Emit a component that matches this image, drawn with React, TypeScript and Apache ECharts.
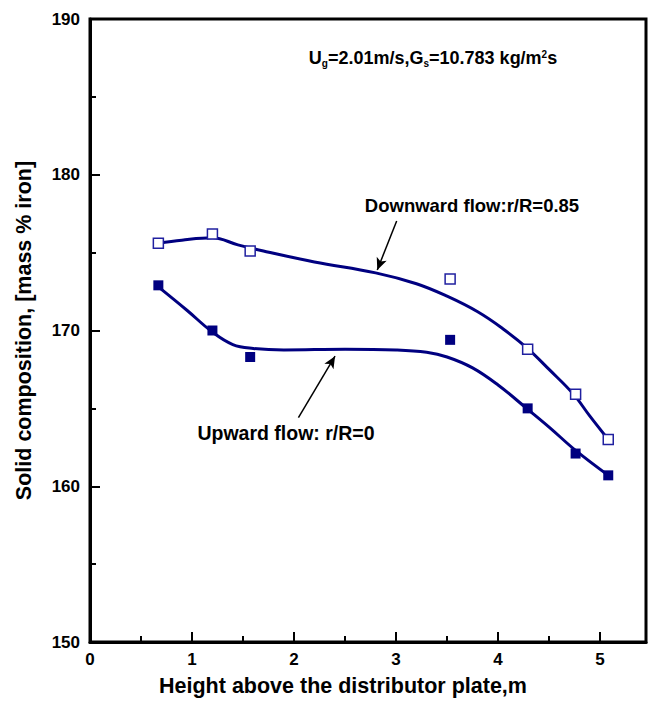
import React, { useEffect, useRef } from "react";
import * as echarts from "echarts";

// Measured points
const heights = [0.67, 1.2, 1.57, 3.53, 4.29, 4.76, 5.08];
const downwardPts = [175.6, 176.2, 175.1, 173.3, 168.8, 165.9, 163.0];
const upwardPts = [172.9, 170.0, 168.3, 169.4, 165.0, 162.1, 160.7];

// Fitted curves
const downCurveX = [0.67, 0.9, 1.2, 1.45, 1.7, 2.2, 2.8, 3.2, 3.5, 3.8, 4.05, 4.28, 4.5, 4.74, 4.9, 5.08];
const downCurveY = [175.6, 175.8, 175.95, 175.5, 175.1, 174.4, 173.7, 173.0, 172.2, 171.2, 170.1, 168.9, 167.5, 165.9, 164.5, 163.0];
const upCurveX = [0.67, 0.95, 1.2, 1.4, 1.6, 1.9, 2.5, 3.0, 3.3, 3.5, 3.75, 4.0, 4.28, 4.5, 4.76, 5.08];
const upCurveY = [172.8, 171.3, 169.9, 169.1, 168.85, 168.75, 168.8, 168.75, 168.6, 168.3, 167.6, 166.5, 165.0, 163.8, 162.3, 160.7];

// Arrow annotations (tail, tip) in data units
const downArrow = [[3.006, 177.03], [2.816, 173.89]];
const upArrow = [[2.043, 164.4], [2.402, 168.35]];

const xTicks = [0, 1, 2, 3, 4, 5];
const yTicks = [150, 160, 170, 180, 190];

const NAVY = "#000080";
const FONT = "'Liberation Sans', Arial, sans-serif";

export default function App() {
  const ref = useRef<HTMLDivElement>(null);
  useEffect(() => {
    if (!ref.current) return;
    const chart = echarts.init(ref.current, undefined, { renderer: "svg" });
    const zip = (xs: number[], ys: number[]) => xs.map((x, i) => [x, ys[i]]);
    chart.setOption({
      animation: false,
      backgroundColor: "#ffffff",
      grid: {
        left: 90,
        top: 19,
        width: 556,
        height: 625,
        show: true,
        borderColor: "#000",
        borderWidth: 3,
        backgroundColor: "transparent",
      },
      xAxis: {
        type: "value",
        min: xTicks[0],
        max: 5.45,
        interval: 1,
        name: "Height above the distributor plate,m",
        nameLocation: "middle",
        nameGap: 33,
        nameTextStyle: { fontFamily: FONT, fontWeight: "bold", fontSize: 21.5, color: "#000", padding: [0, 50, 0, 0] },
        axisLine: { show: true, lineStyle: { color: "#000", width: 3 } },
        axisTick: { show: true, inside: true, length: 10, lineStyle: { color: "#000", width: 2 } },
        minorTick: { show: true, splitNumber: 2, length: 6, lineStyle: { color: "#000", width: 2 } },
        splitLine: { show: false },
        axisLabel: {
          fontFamily: FONT, fontWeight: "bold", fontSize: 17, color: "#000", margin: 9,
          formatter: (v: number) => (xTicks.includes(v) ? String(v) : ""),
        },
      },
      yAxis: {
        type: "value",
        min: yTicks[0],
        max: yTicks[yTicks.length - 1],
        interval: 10,
        name: "Solid composition, [mass % iron]",
        nameLocation: "middle",
        nameGap: 55,
        nameTextStyle: { fontFamily: FONT, fontWeight: "bold", fontSize: 21.5, color: "#000" },
        axisLine: { show: true, lineStyle: { color: "#000", width: 3 } },
        axisTick: { show: true, inside: true, length: 10, lineStyle: { color: "#000", width: 2 } },
        minorTick: { show: true, splitNumber: 2, length: 6, lineStyle: { color: "#000", width: 2 } },
        splitLine: { show: false },
        axisLabel: { fontFamily: FONT, fontWeight: "bold", fontSize: 17, color: "#000", margin: 10 },
      },
      series: [
        {
          type: "line",
          data: zip(downCurveX, downCurveY),
          smooth: 0.4,
          showSymbol: false,
          symbol: "none",
          lineStyle: { color: NAVY, width: 3 },
          z: 2,
          silent: true,
        },
        {
          type: "line",
          data: zip(upCurveX, upCurveY),
          smooth: 0.4,
          showSymbol: false,
          symbol: "none",
          lineStyle: { color: NAVY, width: 3 },
          z: 2,
          silent: true,
        },
        {
          type: "scatter",
          data: zip(heights, downwardPts),
          symbol: "rect",
          symbolSize: 10,
          itemStyle: { color: "#ffffff", borderColor: "#2020a0", borderWidth: 1.5, opacity: 1 },
          z: 3,
          markLine: {
            silent: true,
            symbol: ["none", "arrow"],
            symbolSize: [8, 12],
            label: { show: false },
            lineStyle: { color: "#000", width: 1.5, type: "solid" },
            data: [
              [{ coord: downArrow[0] }, { coord: downArrow[1] }],
              [{ coord: upArrow[0] }, { coord: upArrow[1] }],
            ],
          },
        },
        {
          type: "scatter",
          data: zip(heights, upwardPts),
          symbol: "rect",
          symbolSize: 10,
          itemStyle: { color: NAVY, opacity: 1 },
          z: 3,
        },
      ],
      graphic: [
        {
          type: "text",
          x: 472,
          y: 205,
          style: {
            text: "Downward flow:r/R=0.85",
            font: `bold 18.5px ${FONT}`,
            fill: "#000",
            align: "center",
            verticalAlign: "middle",
          },
        },
        {
          type: "text",
          x: 286,
          y: 433,
          style: {
            text: "Upward flow: r/R=0",
            font: `bold 19.5px ${FONT}`,
            fill: "#000",
            align: "center",
            verticalAlign: "middle",
          },
        },
        {
          type: "text",
          x: 433,
          y: 58,
          style: {
            text: "{a|U}{sub|g}{a|=2.01m/s,G}{sub|s}{a|=10.783 kg/m}{sup|2}{a|s}",
            align: "center",
            verticalAlign: "middle",
            rich: {
              a: { fontFamily: FONT, fontWeight: "bold", fontSize: 18, color: "#000" },
              sub: { fontFamily: FONT, fontWeight: "bold", fontSize: 10, color: "#000", padding: [10, 0, 0, 0] },
              sup: { fontFamily: FONT, fontWeight: "bold", fontSize: 10, color: "#000", padding: [0, 0, 8, 0] },
            },
          },
        },
      ],
    });
    return () => chart.dispose();
  }, []);
  return (
    <div
      ref={ref}
      style={{ position: "fixed", left: 0, top: 0, width: 650, height: 702, background: "#fff" }}
    />
  );
}
